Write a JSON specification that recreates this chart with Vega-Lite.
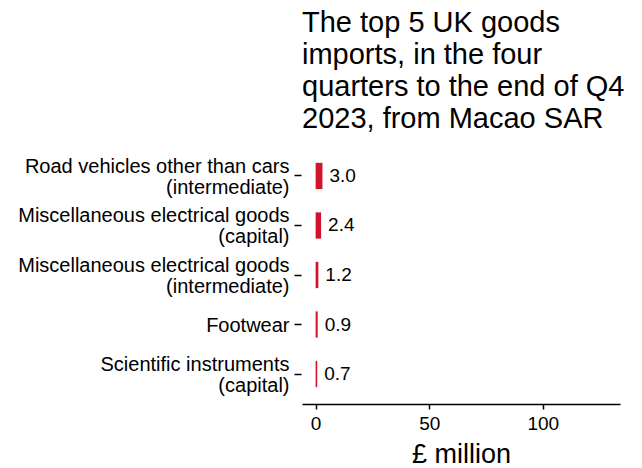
{
  "$schema": "https://vega.github.io/schema/vega-lite/v6.json",
  "width": 318,
  "height": 258,
  "autosize": "none",
  "padding": {"left": 302, "top": 146, "right": 22, "bottom": 64},
  "background": "white",
  "title": {
    "text": ["The top 5 UK goods", "imports, in the four", "quarters to the end of Q4", "2023, from Macao SAR"],
    "anchor": "start",
    "frame": "group",
    "fontSize": 29,
    "lineHeight": 32,
    "font": "Liberation Sans",
    "fontWeight": "normal",
    "color": "black",
    "offset": 12
  },
  "data": {
    "values": [
      {"category": "Road vehicles other than cars (intermediate)", "value": 3.0},
      {"category": "Miscellaneous electrical goods (capital)", "value": 2.4},
      {"category": "Miscellaneous electrical goods (intermediate)", "value": 1.2},
      {"category": "Footwear", "value": 0.9},
      {"category": "Scientific instruments (capital)", "value": 0.7}
    ]
  },
  "encoding": {
    "y": {
      "field": "category",
      "type": "nominal",
      "sort": null,
      "scale": {"paddingInner": 0.47, "paddingOuter": 0.34},
      "axis": {
        "title": null,
        "domain": false,
        "ticks": true,
        "tickColor": "black",
        "tickSize": 7,
        "tickWidth": 1.5,
        "offset": 1,
        "labelFont": "Liberation Sans",
        "labelFontSize": 20,
        "labelColor": "black",
        "labelPadding": 5,
        "labelLineHeight": 21,
        "labelLimit": 0,
        "labelOffset": {"condition": {"test": "indexof(datum.label, ' (') > 0", "value": -9}, "value": 1.5},
        "grid": false,
        "labelExpr": "indexof(datum.label, ' (') > 0 ? [slice(datum.label, 0, indexof(datum.label, ' (')), slice(datum.label, indexof(datum.label, ' (') + 1)] : datum.label"
      }
    }
  },
  "layer": [
    {
      "mark": {"type": "bar", "color": "#cf142b"},
      "encoding": {
        "x": {
          "field": "value",
          "type": "quantitative",
          "scale": {"domain": [-6, 134], "nice": false, "zero": false},
          "axis": {
            "values": [0, 50, 100],
            "grid": false,
            "domainColor": "black",
            "domainWidth": 1.5,
            "tickColor": "black",
            "tickWidth": 1.5,
            "tickSize": 5,
            "labelFont": "Liberation Sans",
            "labelFontSize": 19,
            "labelColor": "black",
            "labelPadding": 5,
            "title": "£ million",
            "titleFont": "Liberation Sans",
            "titleFontSize": 27,
            "titleFontWeight": "normal",
            "titleColor": "black",
            "titlePadding": 8
          }
        }
      }
    },
    {
      "mark": {"type": "text", "align": "left", "baseline": "middle", "dx": 7, "fontSize": 19, "font": "Liberation Sans", "color": "black"},
      "encoding": {
        "x": {"field": "value", "type": "quantitative"},
        "text": {"field": "value", "type": "quantitative", "format": ".1f"}
      }
    }
  ],
  "config": {"view": {"stroke": null}}
}
